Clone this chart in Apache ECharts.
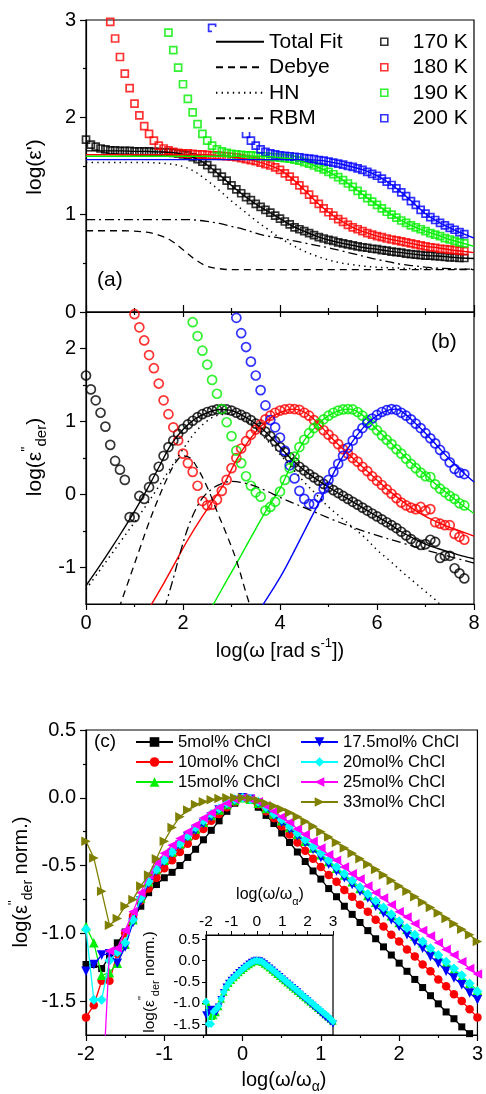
<!DOCTYPE html>
<html><head><meta charset="utf-8">
<script src="https://cdn.jsdelivr.net/npm/echarts@6/dist/echarts.min.js"></script>
<style>html,body{margin:0;padding:0;background:#fff}#c{width:486px;height:1094px}</style>
</head><body><div id="c"></div>
<script>
// ---------- DATA ----------
const STEP = 0.1;      // measured grid spacing in log(omega)
const FIT_STEP = 0.25;
// Panel (a): log(eps') measured
const a170Start = 0.0;
const a170 = [1.77,1.72,1.70,1.68,1.67,1.66,1.66,1.655,1.655,1.655,
 1.65,1.65,1.65,1.65,1.645,1.645,1.64,1.64,1.635,1.63,
 1.62,1.61,1.59,1.57,1.545,1.51,1.47,1.43,1.39,1.35,
 1.30,1.26,1.22,1.18,1.15,1.11,1.08,1.05,1.02,0.99,
 0.96,0.93,0.90,0.87,0.85,0.83,0.81,0.79,0.77,0.755,
 0.74,0.73,0.715,0.705,0.695,0.685,0.675,0.665,0.66,0.65,
 0.645,0.635,0.63,0.62,0.615,0.61,0.60,0.595,0.59,0.585,
 0.58,0.58,0.575,0.57,0.565,0.56,0.56,0.555,0.555];
const a180Start = 0.5;
const a180 = [2.98,2.81,2.62,2.45,2.30,
 2.14,2.02,1.91,1.83,1.76,1.71,1.68,1.66,1.645,1.635,
 1.63,1.63,1.625,1.62,1.62,1.615,1.61,1.61,1.605,1.60,
 1.595,1.59,1.58,1.57,1.56,1.55,1.535,1.52,1.505,1.485,
 1.46,1.425,1.39,1.35,1.30,1.255,1.205,1.155,1.11,1.065,
 1.025,0.99,0.955,0.925,0.895,0.87,0.85,0.83,0.81,0.795,
 0.78,0.77,0.755,0.745,0.735,0.725,0.715,0.705,0.695,0.685,
 0.675,0.665,0.66,0.65,0.645,0.64,0.635,0.63,0.625];
const a190Start = 1.7;
const a190 = [2.87,2.69,2.51,
 2.34,2.19,2.05,1.93,1.83,1.76,1.71,1.67,1.65,1.635,
 1.625,1.62,1.615,1.61,1.61,1.605,1.60,1.60,1.595,1.59,
 1.585,1.58,1.575,1.565,1.555,1.54,1.525,1.505,1.485,1.465,
 1.44,1.415,1.385,1.355,1.32,1.285,1.245,1.205,1.17,1.135,
 1.10,1.065,1.03,1.00,0.97,0.94,0.915,0.89,0.87,0.85,
 0.83,0.81,0.795,0.78,0.76,0.745,0.73,0.715,0.705];
const a200Start = 2.6;
const a200 = [2.92,2.73,2.55,2.38,
 2.22,2.07,1.94,1.83,1.76,1.71,1.67,1.645,1.63,1.62,
 1.61,1.605,1.60,1.595,1.59,1.58,1.575,1.57,1.56,1.555,
 1.545,1.535,1.525,1.515,1.50,1.49,1.475,1.46,1.44,1.42,
 1.40,1.37,1.34,1.305,1.27,1.23,1.19,1.14,1.10,1.05,
 1.01,0.975,0.945,0.915,0.89,0.865,0.845,0.82,0.80];
// Panel (a): fits on 0..8, step 0.25
const fitA170 = [1.655,1.655,1.655,1.655,1.65,1.65,1.645,1.64,1.62,1.58,1.51,1.41,1.30,1.20,1.11,1.035,0.96,0.885,0.83,0.78,0.74,0.71,0.685,0.66,0.645,0.625,0.61,0.595,0.58,0.575,0.565,0.555,0.55];
const fitA180 = [1.615,1.615,1.615,1.615,1.615,1.615,1.615,1.615,1.615,1.615,1.615,1.605,1.595,1.575,1.55,1.512,1.46,1.37,1.255,1.13,1.025,0.94,0.87,0.82,0.78,0.75,0.725,0.70,0.675,0.66,0.64,0.625,0.61];
const fitA190 = [1.60,1.60,1.60,1.60,1.60,1.60,1.60,1.60,1.60,1.60,1.60,1.60,1.60,1.60,1.60,1.597,1.585,1.57,1.54,1.495,1.44,1.37,1.285,1.19,1.10,1.015,0.94,0.88,0.83,0.79,0.745,0.71,0.675];
const fitA200 = [1.565,1.565,1.565,1.565,1.565,1.565,1.565,1.565,1.565,1.565,1.565,1.565,1.565,1.565,1.565,1.565,1.565,1.565,1.565,1.56,1.545,1.52,1.49,1.455,1.40,1.325,1.23,1.12,1.01,0.93,0.865,0.81,0.76];
const debyeA = [0.835,0.835,0.835,0.835,0.83,0.82,0.79,0.735,0.64,0.54,0.47,0.445,0.435,0.435,0.435,0.435,0.435,0.435,0.435,0.435,0.435,0.435,0.435,0.435,0.435,0.435,0.435,0.435,0.435,0.435,0.435,0.435,0.435];
const hnA = [1.535,1.535,1.535,1.535,1.535,1.535,1.53,1.52,1.495,1.44,1.35,1.25,1.14,1.04,0.94,0.85,0.76,0.69,0.625,0.575,0.535,0.505,0.485,0.47,0.46,0.455,0.45,0.445,0.445,0.44,0.44,0.44,0.44];
const rbmA = [0.95,0.95,0.95,0.95,0.95,0.95,0.95,0.95,0.95,0.945,0.93,0.91,0.88,0.85,0.81,0.78,0.76,0.735,0.71,0.685,0.66,0.63,0.60,0.57,0.54,0.515,0.49,0.475,0.46,0.45,0.445,0.44,0.44];

// Panel (b): log(eps''_der) measured
const b170Start = 0.0;
const b170 = [1.63,1.44,1.29,1.12,0.93,0.68,0.46,0.34,0.20,-0.31,
 -0.31,-0.02,-0.06,0.10,0.22,0.38,0.53,0.65,0.74,0.83,
 0.90,0.96,1.01,1.06,1.10,1.13,1.15,1.165,1.17,1.165,
 1.15,1.12,1.09,1.06,1.02,0.97,0.92,0.86,0.80,0.73,
 0.65,0.58,0.51,0.44,0.38,0.33,0.28,0.235,0.19,0.145,
 0.10,0.06,0.02,-0.02,-0.06,-0.10,-0.14,-0.18,-0.22,-0.26,
 -0.30,-0.34,-0.38,-0.42,-0.46,-0.51,-0.56,-0.61,-0.66,-0.69,
 -0.68,-0.62,-0.65,-0.87,-0.84,-0.84,-1.01,-1.08,-1.15];
const b180Start = 1.0;
const b180 = [2.47,2.29,2.11,1.91,1.73,1.52,1.29,1.10,0.92,0.74,
 0.56,0.43,0.31,0.12,-0.09,-0.15,-0.14,-0.07,0.05,0.20,
 0.36,0.50,0.63,0.73,0.82,0.89,0.96,1.03,1.08,1.12,
 1.15,1.165,1.175,1.17,1.16,1.12,1.08,1.02,0.95,0.88,
 0.82,0.76,0.69,0.62,0.56,0.50,0.45,0.38,0.32,0.25,
 0.19,0.13,0.07,0.01,-0.05,-0.11,-0.15,-0.18,-0.20,-0.17,
 -0.22,-0.20,-0.38,-0.40,-0.42,-0.42,-0.54,-0.58,-0.62];
const b190Start = 2.2;
const b190 = [2.36,2.17,1.97,1.78,1.57,1.38,1.17,0.99,
 0.80,0.60,0.43,0.25,0.12,0.03,-0.03,-0.22,-0.17,-0.10,
 0.04,0.20,0.36,0.52,0.65,0.75,0.84,0.91,0.97,1.03,
 1.08,1.12,1.15,1.165,1.17,1.165,1.13,1.08,1.02,0.95,
 0.88,0.81,0.75,0.69,0.62,0.56,0.49,0.42,0.36,0.30,
 0.25,0.24,0.14,0.08,0.03,-0.02,-0.06,-0.12,-0.15];
const b200Start = 3.1;
const b200 = [2.42,2.21,2.02,1.82,1.63,1.43,1.22,1.02,0.92,
 0.78,0.60,0.40,0.22,0.05,-0.06,-0.13,-0.13,-0.04,0.08,
 0.20,0.31,0.42,0.53,0.64,0.74,0.83,0.91,0.98,1.04,
 1.09,1.13,1.155,1.17,1.16,1.12,1.08,1.03,0.97,0.91,
 0.84,0.77,0.70,0.61,0.53,0.44,0.35,0.30,0.28];
// Panel (b): fits and components [x, y]
const fitB170 = [-1.25,-1.01,-0.76,-0.50,-0.23,0.06,0.37,0.68,0.89,1.035,1.12,1.165,1.15,1.075,0.97,0.83,0.65,0.475,0.33,0.21,0.10,0.0,-0.10,-0.20,-0.30,-0.40,-0.51,-0.60,-0.68,-0.74,-0.79,-0.84,-0.88];
const fitB180 = [[1.3,-1.56],[1.6,-1.22],[1.85,-0.92],[2.1,-0.62],[2.35,-0.35],[2.6,-0.10],[2.85,0.15],[3.1,0.47],[3.35,0.73],[3.6,0.93],[3.85,1.07],[4.1,1.15],[4.3,1.17],[4.5,1.13],[4.75,1.00],[5.0,0.82],[5.25,0.655],[5.5,0.50],[5.75,0.35],[6.0,0.20],[6.25,0.05],[6.5,-0.08],[6.75,-0.20],[7.0,-0.30],[7.25,-0.38],[7.5,-0.45],[7.75,-0.51],[8.0,-0.57]];
const fitB190 = [[2.58,-1.56],[2.9,-1.18],[3.2,-0.83],[3.5,-0.47],[3.75,-0.18],[4.0,0.08],[4.25,0.43],[4.5,0.74],[4.75,0.94],[5.0,1.08],[5.25,1.155],[5.45,1.17],[5.75,1.06],[6.0,0.89],[6.25,0.73],[6.5,0.57],[6.75,0.41],[7.0,0.27],[7.25,0.12],[7.5,-0.01],[7.75,-0.14],[8.0,-0.26]];
const fitB200 = [[3.6,-1.56],[3.85,-1.30],[4.05,-1.08],[4.25,-0.83],[4.45,-0.57],[4.65,-0.31],[4.85,-0.05],[5.05,0.22],[5.25,0.47],[5.5,0.73],[5.75,0.94],[6.0,1.08],[6.25,1.16],[6.4,1.17],[6.6,1.09],[6.8,0.97],[7.0,0.84],[7.25,0.66],[7.5,0.48],[7.75,0.32],[8.0,0.17]];
const debyeB = [[0.68,-1.56],[0.9,-1.14],[1.1,-0.76],[1.3,-0.38],[1.5,-0.04],[1.7,0.26],[1.85,0.44],[2.0,0.53],[2.15,0.50],[2.3,0.36],[2.5,0.10],[2.7,-0.23],[2.9,-0.55],[3.1,-0.90],[3.3,-1.35],[3.4,-1.56]];
const hnB = [[0,-1.30],[0.25,-1.07],[0.5,-0.84],[0.75,-0.61],[1.0,-0.38],[1.25,-0.14],[1.5,0.11],[1.75,0.37],[2.0,0.62],[2.25,0.85],[2.5,1.01],[2.75,1.09],[3.0,1.10],[3.25,1.03],[3.5,0.90],[3.75,0.73],[4.0,0.55],[4.25,0.36],[4.5,0.17],[4.75,0.0],[5.0,-0.17],[5.25,-0.31],[5.5,-0.45],[5.75,-0.59],[6.0,-0.76],[6.25,-0.90],[6.5,-1.05],[6.75,-1.19],[7.0,-1.33],[7.25,-1.47],[7.35,-1.56]];
const rbmB = [[1.62,-1.56],[1.8,-1.15],[1.95,-0.78],[2.1,-0.46],[2.25,-0.22],[2.4,-0.05],[2.6,0.08],[2.8,0.15],[3.0,0.18],[3.25,0.16],[3.5,0.11],[3.75,0.04],[4.0,-0.04],[4.5,-0.18],[5.0,-0.32],[5.5,-0.45],[6.0,-0.56],[6.5,-0.66],[7.0,-0.76],[7.5,-0.85],[8.0,-0.94]];

// Panel (c): normalized log(eps''_der) vs log(omega/omega_alpha)
const cStart = -2.0;
const c5 = [-1.23,-1.23,-1.26,-1.17,-1.07,-0.99,-0.90,-0.80,-0.70,-0.64,
 -0.59,-0.55,-0.50,-0.44,-0.38,-0.31,-0.24,-0.17,-0.10,-0.04,
 0.00,-0.02,-0.07,-0.13,-0.19,-0.26,-0.33,-0.40,-0.47,-0.54,
 -0.60,-0.67,-0.73,-0.80,-0.86,-0.92,-0.98,-1.04,-1.10,-1.16,
 -1.22,-1.28,-1.34,-1.40,-1.46,-1.52,-1.58,-1.63,-1.69,-1.74,-1.80];
const c10 = [-1.62,-1.53,-1.35,-1.35,-1.15,-1.00,-0.87,-0.76,-0.67,-0.59,
 -0.52,-0.46,-0.40,-0.34,-0.28,-0.23,-0.17,-0.12,-0.07,-0.03,
 0.00,-0.01,-0.05,-0.10,-0.15,-0.21,-0.27,-0.33,-0.39,-0.45,
 -0.51,-0.57,-0.62,-0.68,-0.73,-0.79,-0.84,-0.90,-0.95,-1.01,
 -1.06,-1.12,-1.17,-1.23,-1.28,-1.34,-1.39,-1.45,-1.50,-1.56,-1.62];
const c15 = [-0.95,-1.07,-1.31,-1.29,-1.22,-1.08,-0.90,-0.74,-0.62,-0.53,
 -0.46,-0.40,-0.34,-0.28,-0.23,-0.18,-0.13,-0.09,-0.05,-0.02,
 0.00,-0.01,-0.04,-0.08,-0.12,-0.17,-0.22,-0.27,-0.32,-0.37,
 -0.42,-0.47,-0.52,-0.57,-0.62,-0.67,-0.72,-0.77,-0.82,-0.87,
 -0.92,-0.97,-1.02,-1.07,-1.12,-1.17,-1.22,-1.27,-1.32,-1.37,-1.42];
const c175 = [-1.28,-1.23,-1.16,-1.15,-1.22,-1.10,-0.92,-0.76,-0.63,-0.54,
 -0.47,-0.41,-0.35,-0.29,-0.24,-0.19,-0.14,-0.09,-0.05,-0.02,
 0.00,-0.01,-0.04,-0.08,-0.13,-0.18,-0.23,-0.28,-0.33,-0.38,
 -0.44,-0.49,-0.54,-0.59,-0.64,-0.69,-0.74,-0.80,-0.85,-0.90,
 -0.95,-1.01,-1.06,-1.11,-1.17,-1.22,-1.28,-1.33,-1.38,-1.44,-1.49];
const c20 = [-0.97,-1.49,-1.49,-1.20,-1.14,-1.07,-0.90,-0.74,-0.62,-0.53,
 -0.46,-0.40,-0.34,-0.28,-0.22,-0.17,-0.12,-0.08,-0.04,-0.01,
 0.00,-0.01,-0.03,-0.07,-0.12,-0.16,-0.21,-0.26,-0.31,-0.36,
 -0.41,-0.46,-0.51,-0.56,-0.61,-0.66,-0.71,-0.76,-0.81,-0.86,
 -0.91,-0.96,-1.01,-1.06,-1.11,-1.16,-1.21,-1.26,-1.31,-1.37,-1.43];
const c25Start = -1.8;
const c25 = [-2.30,-1.13,-1.11,-0.98,-0.84,-0.70,-0.57,-0.48,
 -0.41,-0.35,-0.30,-0.25,-0.20,-0.15,-0.11,-0.07,-0.04,-0.01,
 0.00,-0.01,-0.03,-0.06,-0.10,-0.14,-0.18,-0.23,-0.27,-0.32,
 -0.37,-0.42,-0.46,-0.51,-0.56,-0.60,-0.65,-0.70,-0.74,-0.79,
 -0.84,-0.88,-0.93,-0.98,-1.02,-1.07,-1.12,-1.16,-1.21,-1.26,-1.30];
const c33 = [-0.32,-0.445,-0.69,-0.94,-0.89,-0.80,-0.75,-0.65,-0.57,-0.45,
 -0.32,-0.22,-0.14,-0.09,-0.05,-0.03,-0.015,-0.005,0.00,0.00,
 0.00,-0.005,-0.02,-0.04,-0.06,-0.085,-0.11,-0.14,-0.175,-0.21,
 -0.25,-0.29,-0.33,-0.37,-0.41,-0.45,-0.49,-0.53,-0.57,-0.61,
 -0.65,-0.69,-0.73,-0.77,-0.81,-0.85,-0.89,-0.93,-0.97,-1.01,-1.06];

const tempNames = ['170 K','180 K','190 K','200 K'];
const compNames = ['Total Fit','Debye','HN','RBM'];
const concNames = ['5mol% ChCl','10mol% ChCl','15mol% ChCl','17.5mol% ChCl','20mol% ChCl','25mol% ChCl','33mol% ChCl'];

// ---------- HELPERS ----------
function seq(start, step, vals){ return vals.map((v,i)=>[Math.round((start+i*step)*1000)/1000, v]); }
const FONT = '"Liberation Sans", Arial, Helvetica, sans-serif';
const BLACK='#000000', RED='#ff0000', GREEN='#00ee00', BLUE='#0000ff';
const tempColors=[BLACK,RED,GREEN,BLUE];
const DASH=[7,5], DOT=[1.4,4.2], DASHDOT=[9,4,2,4];

const series=[];
function scat(name, xi, yi, data, color, symbol, size, bw){
  series.push({type:'scatter', name, xAxisIndex:xi, yAxisIndex:yi, data, symbol, symbolSize:size, z:2,
    itemStyle:{color:'rgba(0,0,0,0)', borderColor:color, borderWidth:bw}, silent:true});
}
function line(name, xi, yi, data, color, type, width){
  series.push({type:'line', name, xAxisIndex:xi, yAxisIndex:yi, data, symbol:'none', smooth:0.35, z:3,
    lineStyle:{color, width:width||1.4, type:type||'solid'}, itemStyle:{color}, silent:true});
}
// panel a
const aData=[seq(a170Start,STEP,a170),seq(a180Start,STEP,a180),seq(a190Start,STEP,a190),seq(a200Start,STEP,a200)];
aData.forEach((d,i)=>scat(tempNames[i],0,0,d,tempColors[i],'rect',7,1.7));
const aFits=[fitA170,fitA180,fitA190,fitA200];
aFits.forEach((f,i)=>line(i===0?'Total Fit':'fitA'+i,0,0,seq(0,FIT_STEP,f),tempColors[i]));
line('Debye',0,0,seq(0,FIT_STEP,debyeA),BLACK,DASH,1.3);
line('HN',0,0,seq(0,FIT_STEP,hnA),BLACK,DOT,1.5);
line('RBM',0,0,seq(0,FIT_STEP,rbmA),BLACK,DASHDOT,1.3);
// panel b
const bData=[seq(b170Start,STEP,b170),seq(b180Start,STEP,b180),seq(b190Start,STEP,b190),seq(b200Start,STEP,b200)];
bData.forEach((d,i)=>scat('b'+tempNames[i],1,1,d,tempColors[i],'circle',9,1.7));
line('Total Fit',1,1,seq(0,FIT_STEP,fitB170),BLACK);
line('fitB1',1,1,fitB180,RED);
line('fitB2',1,1,fitB190,GREEN);
line('fitB3',1,1,fitB200,BLUE);
line('Debye',1,1,debyeB,BLACK,DASH,1.3);
line('HN',1,1,hnB,BLACK,DOT,1.5);
line('RBM',1,1,rbmB,BLACK,DASHDOT,1.3);
// panel c
const cDefs=[
 {d:seq(cStart,STEP,c5), color:'#000000', symbol:'rect', rot:0, size:7},
 {d:seq(cStart,STEP,c10), color:'#ff0000', symbol:'circle', rot:0, size:8.5},
 {d:seq(cStart,STEP,c15), color:'#00ee00', symbol:'triangle', rot:0, size:9.5},
 {d:seq(cStart,STEP,c175), color:'#0000ff', symbol:'triangle', rot:180, size:9.5},
 {d:seq(cStart,STEP,c20), color:'#00ffff', symbol:'diamond', rot:0, size:10},
 {d:seq(c25Start,STEP,c25), color:'#ff00ff', symbol:'triangle', rot:90, size:9.5},
 {d:seq(cStart,STEP,c33), color:'#808000', symbol:'triangle', rot:-90, size:9.5}
];
cDefs.forEach((c,i)=>{
  series.push({type:'line', name:concNames[i], xAxisIndex:3, yAxisIndex:3, data:c.d, symbol:c.symbol, symbolRotate:c.rot,
    symbolSize:c.size, showSymbol:true, z:3+i, lineStyle:{color:c.color,width:1.3}, itemStyle:{color:c.color}, silent:true});
});
// inset (same data of 15, 17.5, 20 mol%)
[2,3,4].forEach(i=>{
  const c=cDefs[i];
  series.push({type:'line', name:'inset '+concNames[i], xAxisIndex:4, yAxisIndex:5, data:c.d, symbol:c.symbol, symbolRotate:c.rot,
    symbolSize:c.size*0.8, z:3+i, lineStyle:{color:c.color,width:1.2}, itemStyle:{color:c.color}, silent:true});
});

// ---------- AXES ----------
const AL = {show:true, onZero:false, lineStyle:{color:'#000', width:1.2}};
const NOAL = {show:false, onZero:false};
const LBL = (size, extra)=>Object.assign({color:'#000', fontSize:size, fontFamily:FONT}, extra||{});
const xAxis=[
 {gridIndex:0, type:'value', min:0, max:8, interval:2, axisLine:AL, splitLine:{show:false},
  axisLabel:{show:false}, axisTick:{inside:true, length:7, lineStyle:{color:'#000',width:1.2}},
  minorTick:{show:true, splitNumber:2, length:4, lineStyle:{color:'#000',width:1.2}}},
 {gridIndex:1, type:'value', min:0, max:8, interval:2, axisLine:AL, splitLine:{show:false},
  axisLabel:LBL(20,{margin:9}), axisTick:{length:6, lineStyle:{color:'#000',width:1.2}},
  minorTick:{show:true, splitNumber:2, length:3, lineStyle:{color:'#000',width:1.2}}},
 {gridIndex:1, type:'value', position:'top', min:0, max:8, interval:2, axisLine:AL, splitLine:{show:false},
  axisLabel:{show:false}, axisTick:{inside:true, length:5, lineStyle:{color:'#000',width:1.2}},
  minorTick:{show:true, splitNumber:2, length:3, lineStyle:{color:'#000',width:1.2}}},
 {gridIndex:2, type:'value', min:-2, max:3, interval:1, axisLine:AL, splitLine:{show:false},
  axisLabel:LBL(20,{margin:9}), axisTick:{length:6, lineStyle:{color:'#000',width:1.2}},
  minorTick:{show:true, splitNumber:2, length:3, lineStyle:{color:'#000',width:1.2}}},
 {gridIndex:3, type:'value', position:'top', min:-2, max:3, interval:1, axisLine:AL, splitLine:{show:false},
  axisLabel:LBL(15.5,{margin:5}), axisTick:{length:4, lineStyle:{color:'#000',width:1}},
  minorTick:{show:true, splitNumber:2, length:2, lineStyle:{color:'#000',width:1}}}
];
const yAxis=[
 {gridIndex:0, type:'value', min:0, max:3, interval:1, axisLine:AL, splitLine:{show:false},
  axisLabel:LBL(20,{margin:10}), axisTick:{length:6, lineStyle:{color:'#000',width:1.2}},
  minorTick:{show:true, splitNumber:2, length:3, lineStyle:{color:'#000',width:1.2}}},
 {gridIndex:1, type:'value', min:-1.5, max:2.5, axisLine:AL, splitLine:{show:false},
  axisLabel:LBL(20,{margin:10, customValues:[-1,0,1,2]}), axisTick:{length:6, customValues:[-1,0,1,2], lineStyle:{color:'#000',width:1.2}}},
 {gridIndex:1, type:'value', position:'left', min:-1.5, max:2.5, axisLine:NOAL, splitLine:{show:false},
  axisLabel:{show:false, customValues:[-0.5,0.5,1.5]}, axisTick:{length:3, customValues:[-0.5,0.5,1.5], lineStyle:{color:'#000',width:1.2}}},
 {gridIndex:2, type:'value', min:-1.75, max:0.5, axisLine:AL, splitLine:{show:false},
  axisLabel:LBL(20,{margin:10, customValues:[-1.5,-1,-0.5,0,0.5], formatter:v=>v.toFixed(1)}),
  axisTick:{length:6, customValues:[-1.5,-1,-0.5,0,0.5], lineStyle:{color:'#000',width:1.2}}},
 {gridIndex:2, type:'value', position:'left', min:-1.75, max:0.5, axisLine:NOAL, splitLine:{show:false},
  axisLabel:{show:false, customValues:[-1.25,-0.75,-0.25,0.25]}, axisTick:{length:3, customValues:[-1.25,-0.75,-0.25,0.25], lineStyle:{color:'#000',width:1.2}}},
 {gridIndex:3, type:'value', min:-1.75, max:0.6, axisLine:AL, splitLine:{show:false},
  axisLabel:LBL(15.5,{margin:6, customValues:[-1.5,-1,-0.5,0,0.5], formatter:v=>v.toFixed(1)}),
  axisTick:{length:4, customValues:[-1.5,-1,-0.5,0,0.5], lineStyle:{color:'#000',width:1}}}
];
const GB={show:true, borderColor:'#000', borderWidth:1.2, backgroundColor:'rgba(0,0,0,0)'};
const grid=[
 Object.assign({left:86, top:20, width:388, height:292},GB),
 Object.assign({left:86, top:312, width:388, height:292},GB),
 Object.assign({left:86, top:730, width:397, height:305},GB),
 Object.assign({left:206, top:935, width:127, height:100},GB)
];

// ---------- LEGENDS ----------
const legend=[
 {orient:'vertical', left:212, top:27, padding:[2,8,1,3], backgroundColor:'#fff', itemGap:0, itemWidth:48, itemHeight:12,
  selectedMode:false, textStyle:{fontSize:21, lineHeight:25.5, color:'#000', fontFamily:FONT},
  data:compNames.map(n=>({name:n, itemStyle:{opacity:0}}))},
 {orient:'vertical', left:380, top:29, padding:0, itemGap:0, itemWidth:7, itemHeight:7, selectedMode:false,
  textStyle:{fontSize:21, lineHeight:25.5, color:'#000', fontFamily:FONT, padding:[0,0,0,20]},
  data:tempNames.map((n,i)=>({name:n, icon:'rect', itemStyle:{color:'rgba(0,0,0,0)', borderColor:tempColors[i], borderWidth:1.6}}))},
 {orient:'vertical', left:135, top:732, padding:0, itemGap:0, itemWidth:37, itemHeight:12, selectedMode:false,
  textStyle:{fontSize:16.7, lineHeight:20, color:'#000', fontFamily:FONT}, data:concNames.slice(0,3)},
 {orient:'vertical', left:300, top:732, padding:0, itemGap:0, itemWidth:37, itemHeight:12, selectedMode:false,
  textStyle:{fontSize:16.7, lineHeight:20, color:'#000', fontFamily:FONT}, data:concNames.slice(3)}
];

// ---------- TEXT ----------
const rich = (fs)=>({sup:{fontSize:Math.round(fs*0.65), fontFamily:FONT, verticalAlign:'top', lineHeight:fs+8, fill:'#000'},
  sub:{fontSize:Math.round(fs*0.7), fontFamily:FONT, verticalAlign:'bottom', lineHeight:fs+8, fill:'#000'}});
function T(text, x, y, fs, rot, align){
  return {type:'text', x, y, rotation:rot||0, silent:true, z:100,
    style:{text, fontSize:fs, fontFamily:FONT, fill:'#000', lineHeight:fs+8, align:align||'center', verticalAlign:'middle',
      textAlign:align||'center', textVerticalAlign:'middle', rich:rich(fs)}};
}
const graphic=[
 T('(a)',97,280,21,0,'left'),
 T('(b)',431,342,21,0,'left'),
 T('(c)',94,742,19,0,'left'),
 T("log(ε')",35,167,21,Math.PI/2),
 T("log(ε{sup|''}{sub|der})",35,457,21,Math.PI/2),
 T("log(ω [rad s{sup|-1}])",280,651,20),
 T("log(ε{sup|''}{sub|der} norm.)",21,882,20,Math.PI/2),
 T("log(ω/ω{sub|α})",284,1080,20),
 T("log(ω/ω{sub|α})",270,895,16),
 T("log(ε{sup|''}{sub|der} norm.)",150,982,15.5,Math.PI/2)
];

const chart = echarts.init(document.getElementById('c'), null, {renderer:'canvas'});
chart.setOption({animation:false, backgroundColor:'#fff', grid, xAxis, yAxis, legend, series, graphic});
</script></body></html>
